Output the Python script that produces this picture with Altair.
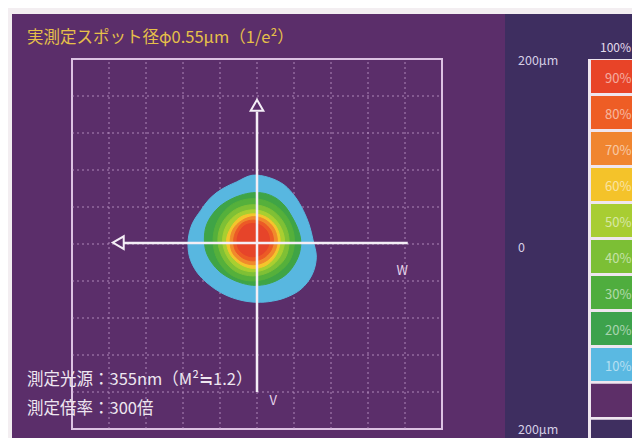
import altair as alt
import pandas as pd
import numpy as np

# ---------------- texts ----------------
TITLE = "実測定スポット径φ0.55μm（1/e²）"
NOTES = ["測定光源：355nm（M²≒1.2）", "測定倍率：300倍"]
FONT = "Noto Sans CJK JP"

# ---------------- plot frame (μm) ----------------
grid_values = [-160, -120, -80, -40, 0, 40, 80, 120, 160]
scale_label_text = ["200μm", "0", "200μm"]
scale_label_pos = [198, -4, -201]

# white measurement axes with arrowheads (μm)
axis_x1 = [0, -146]
axis_y1 = [143, 1]
axis_x2 = [0, 163]
axis_y2 = [-160, 1]
arrow_x = [0, -150]
arrow_y = [150, 1.5]
arrow_shape = ["triangle-up", "triangle-left"]
axis_letters = ["W", "V"]
letter_x = [157, 17.5]
letter_y = [-29, -170]

# ---------------- colour bar ----------------
cb_labels = ["90%", "80%", "70%", "60%", "50%", "40%", "30%", "20%", "10%", "", ""]
cb_colors = ["#e84428", "#ee5d25", "#f08530", "#f4c32a", "#a8cd32", "#7cbf35",
             "#4fad3e", "#3da24c", "#5ab9e2", "#5d2f68", "#3f2f60"]

# ---------------- beam profile contours (polar, μm) ----------------
beam_levels = ["10%", "20%", "30%", "40%", "50%", "60%", "70%", "80%", "90%"]
beam_colors = ["#58b7e0", "#3fa446", "#55b03b", "#7fc035", "#a9cf30", "#f4c52c",
               "#f08a2c", "#ec5a26", "#e6442a"]
beam_cx = [-5.4, -4.9, -4.5, -4.3, -4.2, -4.0, -4.0, -4.2, -4.5]
beam_cy = [4.3, 5.4, 5.0, 4.5, 4.0, 3.6, 3.6, 3.8, 4.2]
angles24 = [0, 15, 30, 45, 60, 75, 90, 105, 120, 135, 150, 165,
            180, 195, 210, 225, 240, 255, 270, 285, 300, 315, 330, 345]
angles12 = [0, 30, 60, 90, 120, 150, 180, 210, 240, 270, 300, 330]
r10 = [66, 64, 64, 66, 69, 70, 70, 65, 64, 64, 64, 67,
       69, 70, 69, 67, 66, 66, 67, 69, 72, 75, 75, 72]
r20 = [52, 50, 49, 50, 51, 51, 50, 49, 49, 50, 51, 52,
       52, 52, 51, 50, 49, 49, 50, 51, 52, 53, 53, 53]
r30 = [45, 44, 44, 44, 44, 43, 43, 44, 45, 45, 45, 46]
r40 = [39, 38, 38, 38, 38, 38, 38, 38, 39, 39, 39, 40]
r50 = [34, 33, 33, 33, 33, 33, 33, 33, 34, 34, 34, 34]
r60 = [29, 29, 29, 29, 29, 28, 29, 29, 29, 30, 30, 29]
r70 = [26, 26, 26, 26, 25, 25, 25, 26, 26, 26, 26, 26]
r80 = [22, 22, 22, 22, 22, 21, 21, 22, 22, 22, 22, 22]
r90 = [18, 18, 18, 18, 18, 17, 17, 18, 18, 18, 18, 18]
beam_angles = [angles24, angles24] + [angles12] * 7
beam_radii = [r10, r20, r30, r40, r50, r60, r70, r80, r90]

# ---------------- colours / layout ----------------
BG = "#5b2e6a"
RIGHT_BG = "#3e2e60"
PAPER = "#f3eef1"
W, H = 370, 370

xs = alt.Scale(domain=[-200, 200], nice=False, zero=False)
ys = alt.Scale(domain=[-200, 200], nice=False, zero=False)
one = pd.DataFrame({"a": [0]})


def rect_px(x, x2, y, y2, color):
    return alt.Chart(one).mark_rect(color=color).encode(
        x=alt.value(x), x2=alt.value(x2), y=alt.value(y), y2=alt.value(y2))


def text_px(txt, x, y, size, color, align="left", opacity=1.0):
    return alt.Chart(one).mark_text(
        text=txt, align=align, baseline="middle", font=FONT, fontSize=size,
        color=color, opacity=opacity).encode(x=alt.value(x), y=alt.value(y))


layers = []
# panels
layers.append(rect_px(433, 570, -45, 400, RIGHT_BG))
layers.append(rect_px(-70, 570, -60, -45, PAPER))
layers.append(rect_px(-70, -60, -60, 400, PAPER))

# dotted grid
gdf = pd.DataFrame({"g": grid_values, "lo": -200, "hi": 200})
grid_style = dict(strokeDash=[2, 3], color="#c9a6d2", strokeWidth=1, opacity=0.75)
layers.append(alt.Chart(gdf).mark_rule(**grid_style).encode(
    x=alt.X("g:Q", scale=xs, axis=None),
    y=alt.Y("lo:Q", scale=ys, axis=None), y2="hi:Q"))
layers.append(alt.Chart(gdf).mark_rule(**grid_style).encode(
    y=alt.Y("g:Q", scale=ys, axis=None),
    x=alt.X("lo:Q", scale=xs, axis=None), x2="hi:Q"))

# beam contours
for name, col, cx, cy, angs, rs in zip(beam_levels, beam_colors, beam_cx, beam_cy,
                                       beam_angles, beam_radii):
    th = np.radians(angs)
    rr = np.array(rs, dtype=float)
    d = pd.DataFrame({"i": range(len(angs)),
                      "x": cx + rr * np.cos(th),
                      "y": cy + rr * np.sin(th)})
    layers.append(alt.Chart(d).mark_line(
        interpolate="cardinal-closed", fill=col, stroke=col, strokeWidth=1).encode(
        x=alt.X("x:Q", scale=xs, axis=None),
        y=alt.Y("y:Q", scale=ys, axis=None),
        order="i:Q"))

# white axes
adf = pd.DataFrame({"x1": axis_x1, "y1": axis_y1, "x2": axis_x2, "y2": axis_y2})
layers.append(alt.Chart(adf).mark_rule(color="#f4eef6", strokeWidth=2.5).encode(
    x=alt.X("x1:Q", scale=xs, axis=None), x2="x2:Q",
    y=alt.Y("y1:Q", scale=ys, axis=None), y2="y2:Q"))
ardf = pd.DataFrame({"x": arrow_x, "y": arrow_y, "s": arrow_shape})
layers.append(alt.Chart(ardf).mark_point(
    filled=True, fill=BG, stroke="#f4eef6", strokeWidth=2, size=160, opacity=1).encode(
    x=alt.X("x:Q", scale=xs, axis=None),
    y=alt.Y("y:Q", scale=ys, axis=None),
    shape=alt.Shape("s:N", scale=None)))
ldf = pd.DataFrame({"t": axis_letters, "x": letter_x, "y": letter_y})
layers.append(alt.Chart(ldf).mark_text(
    font=FONT, fontSize=13, color="#e6d4ea", baseline="middle").encode(
    x=alt.X("x:Q", scale=xs, axis=None),
    y=alt.Y("y:Q", scale=ys, axis=None), text="t:N"))

# colour bar
n = len(cb_labels)
cb_top = [198.9 - 38.9 * i for i in range(n)]
cbdf = pd.DataFrame({"lab": cb_labels, "col": cb_colors,
                     "top": cb_top,
                     "bot": [t - 35.7 for t in cb_top],
                     "mid": [t - 20.5 for t in cb_top]})
layers.append(rect_px(516, 600, 0, 400, "#efe6ef"))
layers.append(alt.Chart(cbdf).mark_rect().encode(
    x=alt.value(519), x2=alt.value(600),
    y=alt.Y("top:Q", scale=ys, axis=None), y2="bot:Q",
    color=alt.Color("col:N", scale=None)))
layers.append(alt.Chart(cbdf).mark_text(
    font=FONT, fontSize=13, color="#ffffff", opacity=0.55, align="left",
    baseline="middle").encode(
    x=alt.value(533), y=alt.Y("mid:Q", scale=ys, axis=None), text="lab:N"))
layers.append(text_px("100%", 528, -11.5, 12, "#e4dcec"))

# μm scale labels on the right panel
sdf = pd.DataFrame({"t": scale_label_text, "y": scale_label_pos})
layers.append(alt.Chart(sdf).mark_text(
    font=FONT, fontSize=12.5, color="#d6cee6", align="left",
    baseline="middle").encode(
    x=alt.value(446), y=alt.Y("y:Q", scale=ys, axis=None), text="t:N"))

# title and notes
layers.append(text_px(TITLE, -45, -21, 16.5, "#e6c049"))
layers.append(text_px(NOTES[0], -45, 321, 16.5, "#eee6f0"))
layers.append(text_px(NOTES[1], -45, 350, 16.5, "#eee6f0"))

chart = alt.layer(*layers).properties(
    width=W, height=H,
    autosize=alt.AutoSizeParams(type="none"),
    padding={"left": 64, "top": 51, "right": 190, "bottom": 9},
    background=BG,
).configure_view(stroke="#dcc2e2", strokeWidth=2)

chart.save("out.html", embed_options={"renderer": "svg", "actions": False})
